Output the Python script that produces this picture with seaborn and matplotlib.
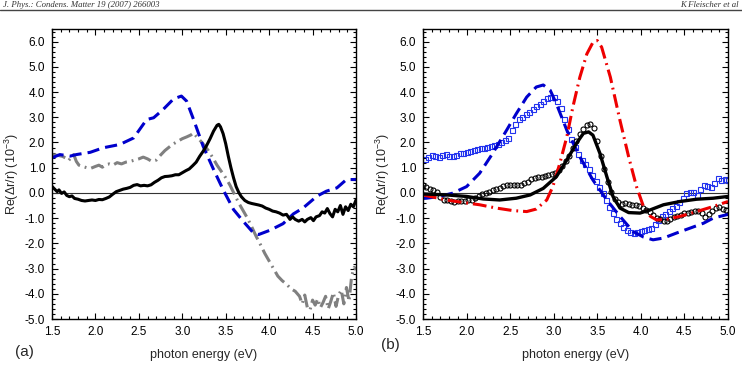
import matplotlib
matplotlib.use("Agg")
import matplotlib.pyplot as plt
from matplotlib.ticker import MultipleLocator, FormatStrFormatter
import seaborn as sns

# ---------------- data: panel (a) ----------------
a_black_x = [1.50, 1.53, 1.56, 1.58, 1.61, 1.64, 1.67, 1.70, 1.73, 1.76, 1.80, 1.84, 1.88, 1.92, 1.96,
             2.00, 2.04, 2.08, 2.12, 2.16, 2.20, 2.24, 2.28, 2.32, 2.36, 2.40, 2.44, 2.48, 2.52, 2.56,
             2.60, 2.64, 2.68, 2.72, 2.76, 2.80, 2.84, 2.88, 2.92, 2.96, 3.00, 3.04, 3.08, 3.12, 3.16,
             3.20, 3.24, 3.28, 3.32, 3.36, 3.40, 3.42, 3.44, 3.47, 3.50, 3.53, 3.56, 3.59, 3.62, 3.65,
             3.68, 3.72, 3.76, 3.80, 3.84, 3.88, 3.92, 3.96, 4.00, 4.04, 4.08, 4.12, 4.16, 4.20, 4.24,
             4.27, 4.30, 4.34, 4.38, 4.41, 4.44, 4.48, 4.51, 4.54, 4.58, 4.61, 4.64, 4.67, 4.70, 4.73,
             4.76, 4.79, 4.82, 4.85, 4.88, 4.91, 4.94, 4.97, 5.00]
a_black_y = [0.26, 0.15, 0.05, 0.12, -0.02, 0.04, -0.10, -0.15, -0.12, -0.22, -0.25, -0.30, -0.32, -0.30, -0.28,
             -0.30, -0.26, -0.27, -0.22, -0.16, -0.05, 0.05, 0.10, 0.15, 0.18, 0.22, 0.30, 0.33, 0.28, 0.30,
             0.28, 0.32, 0.42, 0.50, 0.60, 0.65, 0.66, 0.68, 0.72, 0.72, 0.80, 0.88, 0.95, 1.08, 1.22,
             1.45, 1.65, 1.88, 2.15, 2.45, 2.68, 2.72, 2.62, 2.35, 1.95, 1.45, 1.00, 0.60, 0.25, 0.02,
             -0.15, -0.30, -0.38, -0.42, -0.45, -0.48, -0.52, -0.60, -0.65, -0.72, -0.75, -0.80, -0.88, -0.85, -1.05,
             -0.95, -1.05, -1.12, -1.05, -1.15, -1.05, -0.98, -1.10, -0.95, -0.90, -0.75, -0.80, -0.62, -0.82, -0.95,
             -0.65, -0.75, -0.50, -0.85, -0.55, -0.70, -0.45, -0.55, -0.28]

a_blue_x = [1.50, 1.59, 1.71, 1.78, 1.94, 2.09, 2.28, 2.44, 2.59, 2.67, 2.78, 2.90, 2.99, 3.05, 3.13,
            3.24, 3.36, 3.47, 3.59, 3.70, 3.82, 3.88, 4.01, 4.16, 4.28, 4.39, 4.55, 4.66, 4.78, 4.89, 5.00]
a_blue_y = [1.39, 1.52, 1.46, 1.52, 1.61, 1.79, 1.92, 2.18, 2.91, 2.98, 3.31, 3.73, 3.84, 3.64, 2.91,
            1.85, 0.93, 0.13, -0.66, -1.12, -1.59, -1.65, -1.48, -1.22, -0.83, -0.60, -0.13, 0.07, 0.20, 0.53, 0.53]

a_gray_x = [1.50, 1.54, 1.58, 1.62, 1.66, 1.69, 1.72, 1.75, 1.78, 1.81, 1.85, 1.90, 1.95, 2.00, 2.04,
            2.08, 2.12, 2.16, 2.20, 2.25, 2.30, 2.35, 2.40, 2.45, 2.50, 2.55, 2.60, 2.65, 2.70, 2.75,
            2.80, 2.85, 2.90, 2.95, 3.00, 3.05, 3.10, 3.13, 3.16, 3.20, 3.25, 3.30, 3.35, 3.40, 3.45,
            3.50, 3.55, 3.60, 3.65, 3.70, 3.75, 3.80, 3.85, 3.90, 3.95, 4.00, 4.05, 4.10, 4.15, 4.20,
            4.25, 4.30, 4.35, 4.38, 4.41, 4.44, 4.47, 4.50, 4.53, 4.56, 4.59, 4.62, 4.65, 4.68, 4.71,
            4.74, 4.77, 4.80, 4.83, 4.86, 4.89, 4.92, 4.95, 4.98, 5.00]
a_gray_y = [1.52, 1.50, 1.48, 1.45, 1.38, 1.28, 1.40, 1.52, 1.25, 1.10, 1.05, 1.00, 0.98, 1.05, 1.10,
            1.02, 1.12, 1.15, 1.10, 1.20, 1.15, 1.22, 1.25, 1.30, 1.35, 1.42, 1.35, 1.25, 1.30, 1.50,
            1.68, 1.82, 1.95, 2.05, 2.15, 2.22, 2.30, 2.38, 2.25, 2.10, 1.90, 1.68, 1.40, 1.10, 0.85,
            0.60, 0.30, -0.05, -0.40, -0.70, -1.00, -1.35, -1.72, -2.05, -2.40, -2.70, -3.00, -3.30, -3.48, -3.62,
            -3.80, -3.90, -4.10, -4.40, -4.05, -4.55, -4.65, -4.25, -4.45, -4.20, -4.55, -4.35, -4.10, -4.60, -4.30,
            -3.95, -4.50, -4.05, -3.85, -4.40, -3.75, -4.30, -3.30, -2.95, -3.05]

# ---------------- data: panel (b) ----------------
b_red_x = [1.50, 1.58, 1.77, 1.96, 2.15, 2.34, 2.53, 2.69, 2.80, 2.92, 2.99, 3.07, 3.15, 3.22, 3.30,
           3.38, 3.45, 3.50, 3.55, 3.65, 3.76, 3.86, 3.95, 4.03, 4.11, 4.18, 4.30, 4.45, 4.64, 4.83, 5.00]
b_red_y = [-0.08, -0.14, -0.28, -0.38, -0.47, -0.60, -0.70, -0.74, -0.64, -0.28, 0.25, 1.17, 2.22, 3.41, 4.59,
           5.51, 5.97, 6.04, 5.78, 4.59, 2.88, 1.43, 0.25, -0.54, -0.93, -1.07, -1.04, -0.93, -0.74, -0.54, -0.34]

b_blue_x = [1.50, 1.54, 1.69, 1.84, 2.00, 2.15, 2.30, 2.46, 2.57, 2.69, 2.80, 2.88, 2.96, 3.03, 3.15,
            3.30, 3.45, 3.61, 3.76, 3.91, 4.03, 4.14, 4.26, 4.41, 4.57, 4.72, 4.83, 5.00]
b_blue_y = [-0.22, -0.21, -0.14, -0.01, 0.25, 0.78, 1.57, 2.49, 3.14, 3.80, 4.20, 4.28, 4.07, 3.54, 2.49,
            1.43, 0.51, -0.28, -0.93, -1.53, -1.75, -1.86, -1.79, -1.59, -1.39, -1.20, -1.00, -0.85]

b_black_x = [1.50, 1.77, 2.00, 2.19, 2.38, 2.57, 2.73, 2.88, 3.03, 3.15, 3.26, 3.34, 3.40, 3.45, 3.53,
             3.61, 3.68, 3.76, 3.86, 3.99, 4.11, 4.26, 4.45, 4.64, 4.83, 5.00]
b_black_y = [-0.04, -0.08, -0.14, -0.24, -0.28, -0.21, -0.08, 0.18, 0.64, 1.30, 1.96, 2.36, 2.42, 2.29, 1.57,
             0.64, -0.14, -0.60, -0.78, -0.80, -0.67, -0.47, -0.34, -0.25, -0.21, -0.14]

b_sq_x = [1.52, 1.56, 1.60, 1.64, 1.68, 1.72, 1.76, 1.80, 1.84, 1.88, 1.92, 1.96, 2.00, 2.04, 2.08,
          2.12, 2.16, 2.20, 2.24, 2.28, 2.32, 2.36, 2.40, 2.44, 2.48, 2.52, 2.56, 2.60, 2.64, 2.68,
          2.72, 2.76, 2.80, 2.84, 2.88, 2.92, 2.96, 3.00, 3.04, 3.08, 3.12, 3.16, 3.20, 3.24, 3.28,
          3.32, 3.36, 3.40, 3.44, 3.48, 3.52, 3.56, 3.60, 3.64, 3.68, 3.72, 3.76, 3.80, 3.84, 3.88,
          3.92, 3.96, 4.00, 4.04, 4.08, 4.12, 4.16, 4.20, 4.24, 4.28, 4.32, 4.36, 4.40, 4.44, 4.48,
          4.52, 4.56, 4.60, 4.64, 4.68, 4.72, 4.76, 4.80, 4.84, 4.88, 4.92, 4.96, 5.00]
b_sq_y = [1.35, 1.42, 1.50, 1.47, 1.43, 1.50, 1.54, 1.48, 1.46, 1.52, 1.57, 1.60, 1.63, 1.67, 1.70,
          1.73, 1.77, 1.80, 1.84, 1.86, 1.90, 1.95, 2.02, 2.10, 2.18, 2.50, 2.75, 2.92, 3.02, 3.12,
          3.22, 3.33, 3.43, 3.53, 3.66, 3.77, 3.82, 3.82, 3.65, 3.35, 2.95, 2.52, 2.12, 1.82, 1.55,
          1.32, 1.14, 0.95, 0.72, 0.48, 0.24, 0.00, -0.28, -0.55, -0.80, -1.02, -1.20, -1.36, -1.46, -1.55,
          -1.60, -1.56, -1.50, -1.47, -1.45, -1.38, -1.25, -1.08, -0.92, -0.82, -0.72, -0.60, -0.52, -0.38, -0.20,
          -0.02, 0.05, 0.02, -0.10, 0.15, 0.30, 0.28, 0.22, 0.40, 0.58, 0.50, 0.55, 0.52]

b_circ_x = [1.50, 1.54, 1.58, 1.62, 1.66, 1.70, 1.74, 1.78, 1.82, 1.86, 1.90, 1.94, 1.98, 2.02, 2.06,
            2.10, 2.14, 2.18, 2.22, 2.26, 2.30, 2.34, 2.38, 2.42, 2.46, 2.50, 2.54, 2.58, 2.62, 2.66,
            2.70, 2.74, 2.78, 2.82, 2.86, 2.90, 2.94, 2.98, 3.02, 3.06, 3.10, 3.14, 3.18, 3.22, 3.26,
            3.30, 3.34, 3.38, 3.42, 3.46, 3.50, 3.54, 3.58, 3.62, 3.66, 3.70, 3.74, 3.78, 3.82, 3.86,
            3.90, 3.94, 3.98, 4.02, 4.06, 4.10, 4.14, 4.18, 4.22, 4.26, 4.30, 4.34, 4.38, 4.42, 4.46,
            4.50, 4.54, 4.58, 4.62, 4.66, 4.70, 4.74, 4.78, 4.82, 4.86, 4.90, 4.94, 4.98]
b_circ_y = [0.32, 0.22, 0.15, 0.10, 0.03, -0.18, -0.28, -0.30, -0.33, -0.35, -0.32, -0.34, -0.33, -0.30, -0.28,
            -0.22, -0.14, -0.06, 0.00, 0.05, 0.10, 0.14, 0.20, 0.26, 0.30, 0.33, 0.30, 0.30, 0.33, 0.38,
            0.44, 0.55, 0.60, 0.63, 0.64, 0.66, 0.70, 0.74, 0.80, 0.92, 1.08, 1.25, 1.48, 1.78, 2.05,
            2.32, 2.55, 2.70, 2.72, 2.58, 2.05, 1.45, 0.95, 0.45, 0.05, -0.25, -0.38, -0.42, -0.40, -0.45,
            -0.46, -0.48, -0.52, -0.60, -0.66, -0.75, -0.88, -0.98, -1.05, -1.10, -1.13, -1.05, -0.95, -0.90, -0.86,
            -0.80, -0.78, -0.75, -0.70, -0.72, -0.80, -0.95, -0.85, -0.70, -0.60, -0.55, -0.62, -0.68]

x_ticks = [1.5, 2.0, 2.5, 3.0, 3.5, 4.0, 4.5, 5.0]
y_ticks = [-5.0, -4.0, -3.0, -2.0, -1.0, 0.0, 1.0, 2.0, 3.0, 4.0, 5.0, 6.0]
x_label = "photon energy (eV)"
y_label = r"Re($\Delta$r/r) (10$^{-3}$)"
panel_tags = ["(a)", "(b)"]
header_left = "J. Phys.: Condens. Matter 19 (2007) 266003"
header_right = "K Fleischer et al"

# ---------------- style ----------------
sns.set_theme(style="ticks")
plt.rcParams["font.family"] = ["Liberation Sans", "DejaVu Sans"]
plt.rcParams["mathtext.fontset"] = "custom"
plt.rcParams["mathtext.rm"] = "Liberation Sans"
plt.rcParams["mathtext.it"] = "Liberation Sans:italic"

fig = plt.figure(figsize=(7.42, 3.76), dpi=100)
axA = fig.add_axes([52 / 742, 1 - 319 / 376, (356 - 52) / 742, (319 - 29) / 376])
axB = fig.add_axes([423 / 742, 1 - 319 / 376, (728 - 423) / 742, (319 - 29) / 376])

LW = 2.2
dash = (0, (4, 2))
dashdot = (0, (4.5, 1.6, 0.6, 1.6))


def line(ax, x, y, color, ls, lw=LW):
    sns.lineplot(x=x, y=y, ax=ax, color=color, linestyle=ls, linewidth=lw,
                 sort=False, estimator=None)


def marks(ax, x, y, color, marker, ms):
    sns.lineplot(x=x, y=y, ax=ax, color=color, linestyle="none", marker=marker,
                 markersize=ms, markerfacecolor="none", markeredgecolor=color,
                 markeredgewidth=0.8, sort=False, estimator=None)


for ax in (axA, axB):
    ax.axhline(0, color="#333333", linewidth=0.8, zorder=1)

# panel (a)
line(axA, a_gray_x, a_gray_y, "#808080", dashdot)
line(axA, a_blue_x, a_blue_y, "#0000cc", dash)
line(axA, a_black_x, a_black_y, "black", "-")

# panel (b)
marks(axB, b_sq_x, b_sq_y, "#2233ee", "s", 3.6)
marks(axB, b_circ_x, b_circ_y, "black", "o", 3.6)
line(axB, b_blue_x, b_blue_y, "#0000cc", dash)
line(axB, b_red_x, b_red_y, "#ee0000", dashdot)
line(axB, b_black_x, b_black_y, "black", "-", 2.4)

for ax, tag in zip((axA, axB), panel_tags):
    ax.set_xlim(1.5, 5.0)
    ax.set_ylim(-5.0, 6.5)
    ax.set_xticks(x_ticks)
    ax.set_yticks(y_ticks)
    ax.xaxis.set_minor_locator(MultipleLocator(0.1))
    ax.yaxis.set_minor_locator(MultipleLocator(0.2))
    ax.xaxis.set_major_formatter(FormatStrFormatter("%.1f"))
    ax.yaxis.set_major_formatter(FormatStrFormatter("%.1f"))
    ax.tick_params(which="both", direction="in", top=True, right=True,
                   colors="black", labelsize=8.5, width=0.8)
    ax.tick_params(which="major", length=4)
    ax.tick_params(which="minor", length=2)
    ax.tick_params(axis="x", which="major", pad=5)
    ax.tick_params(axis="y", which="major", pad=5)
    for s in ax.spines.values():
        s.set_visible(True)
        s.set_linewidth(1.0)
        s.set_color("black")
    ax.set_xlabel(x_label, fontsize=9, labelpad=8)
    ax.set_ylabel(y_label, fontsize=9, labelpad=3)
    ax.set_facecolor("white")

fig.text(15 / 742, 1 - 352 / 376, panel_tags[0], fontsize=11, ha="left", va="center")
fig.text(381 / 742, 1 - 345 / 376, panel_tags[1], fontsize=11, ha="left", va="center")

# journal header strip above the rule
fig.text(0.004, 1 - 7 / 376, header_left, fontsize=6.3, color="#333333",
         family=["Liberation Serif"], style="italic", ha="left", va="baseline")
fig.text(0.996, 1 - 7 / 376, header_right, fontsize=6.3, color="#333333",
         family=["Liberation Serif"], style="italic", ha="right", va="baseline")
fig.add_artist(plt.Line2D([0, 1], [1 - 10 / 376, 1 - 10 / 376], color="#444444",
                          linewidth=1.0, transform=fig.transFigure))

fig.savefig("out.png", dpi=100, facecolor="white")
